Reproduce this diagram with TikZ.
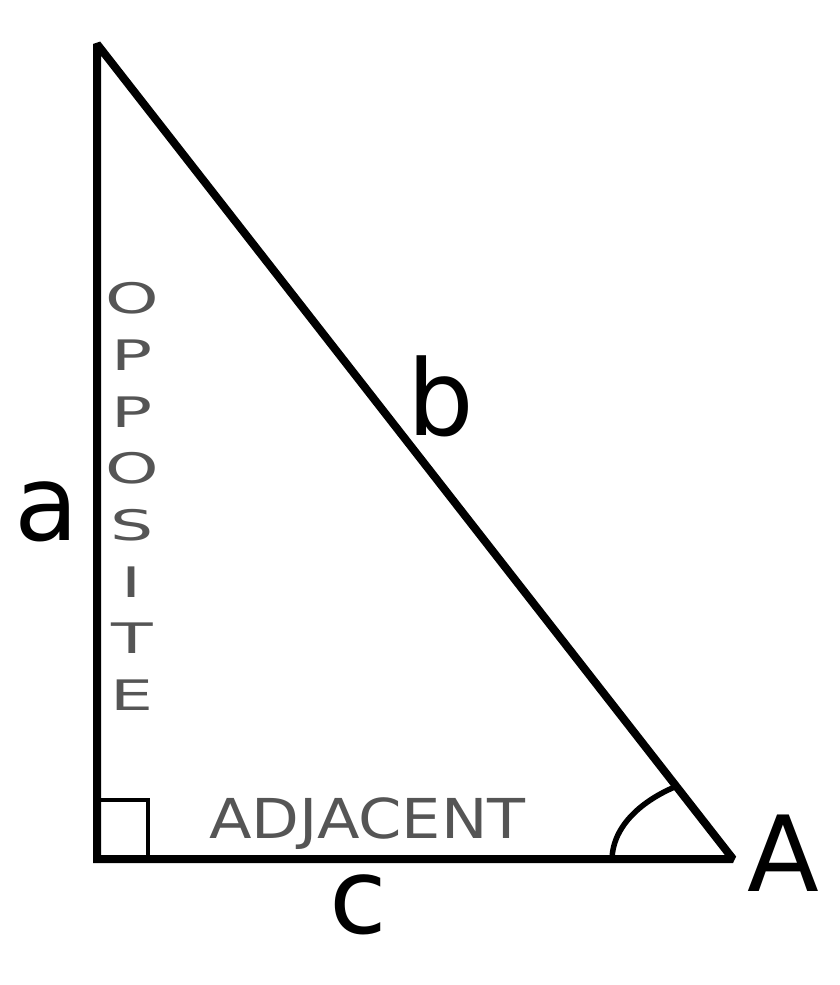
\documentclass[tikz,border=0pt]{standalone}
\usepackage{fontspec}
\setmainfont{DejaVu Sans}
\definecolor{labelgray}{RGB}{85,85,85}
\tikzset{
  edge/.style={line width=8pt, line join=miter, miter limit=2},
  big/.style={anchor=base, inner sep=0pt, font=\fontsize{105}{120}\selectfont},
  vlet/.style={anchor=base, inner sep=0pt, text=labelgray, font=\fontsize{42}{48}\selectfont},
  hlab/.style={anchor=base, inner sep=0pt, text=labelgray, font=\fontsize{55}{64}\selectfont},
}
\begin{document}
\begin{tikzpicture}[x=1pt,y=-1pt]
\useasboundingbox (0,0) rectangle (840,985);
\fill[white] (0,0) rectangle (840,985);
\coordinate (T) at (97,44);
\coordinate (C) at (97,859);
\coordinate (Av) at (733,859);
\draw[edge] (T) -- (C) -- (Av) -- cycle;
% right angle mark
\coordinate (sq1) at (97,800);
\coordinate (sq2) at (148,800);
\coordinate (sq3) at (148,859);
\draw[line width=3.2pt] (sq1) -- (sq2) -- (sq3);
% angle arc at A
\coordinate (arcS) at (612,859);
\coordinate (arcE) at (677,786);
\draw[line width=5.5pt] (arcS) .. controls (613,825) and (643,800) .. (arcE);
% big labels
\node[big] (la) at (47,540) {a};
\node[big] (lb) at (441,435) {b};
\node[big] (lc) at (358,933) {c};
\node[big] (lA) at (783,891) {A};
% OPPOSITE
\node[vlet] (o1) at (132,313) {\scalebox{1.62}[1]{O}};
\node[vlet] (o2) at (132,370) {\scalebox{1.62}[1]{P}};
\node[vlet] (o3) at (132,427) {\scalebox{1.62}[1]{P}};
\node[vlet] (o4) at (132,483) {\scalebox{1.62}[1]{O}};
\node[vlet] (o5) at (132,540) {\scalebox{1.62}[1]{S}};
\node[vlet] (o6) at (132,597) {\scalebox{1.62}[1]{I}};
\node[vlet] (o7) at (132,653) {\scalebox{1.62}[1]{T}};
\node[vlet] (o8) at (132,710) {\scalebox{1.62}[1]{E}};
% ADJACENT
\node[hlab] (adj) at (367.5,838) {\scalebox{1.13}[1]{ADJACENT}};
\end{tikzpicture}
\end{document}
